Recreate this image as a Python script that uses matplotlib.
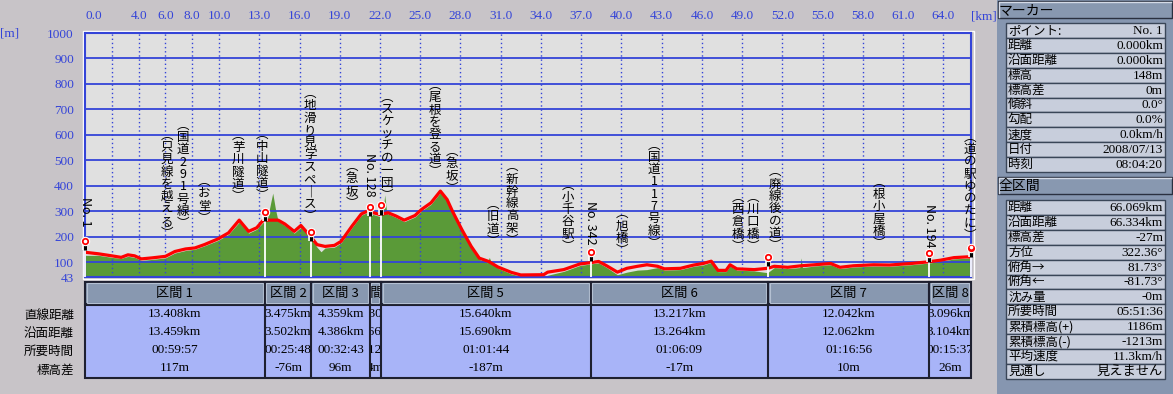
import numpy as np
import matplotlib.pyplot as plt
from matplotlib.patches import Rectangle
from matplotlib.transforms import Bbox, TransformedBbox

plt.rcParams['font.family'] = ['Noto Sans CJK JP', 'DejaVu Sans']
SERIF = ['Liberation Serif', 'Noto Sans CJK JP', 'DejaVu Sans']

# ---------------- data ----------------
# GPS track elevation (red line), km / m
track_km = [0, 1.0, 2.0, 2.7, 3.2, 3.7, 4.2, 5.0, 6.0, 6.7,
            7.5, 8.2, 8.9, 9.9, 10.7, 11.5, 12.2, 12.8, 13.3, 14.4,
            14.9, 15.6, 16.1, 16.8, 17.3, 17.9, 18.6, 19.1, 19.9, 20.6,
            21.2, 21.5, 22.0, 22.6, 23.2, 23.8, 24.6, 25.1, 25.8, 26.5,
            27.0, 27.4, 28.1, 28.8, 29.4, 30.1, 30.8, 31.8, 32.5, 34.2,
            34.5, 35.7, 36.9, 37.8, 38.3, 38.9, 39.7, 40.4, 41.2, 41.9,
            42.7, 43.2, 44.4, 45.4, 46.1, 46.7, 47.2, 47.8, 48.1, 48.6,
            49.9, 50.9, 51.4, 52.4, 53.4, 54.4, 55.6, 56.3, 57.3, 58.8,
            60.0, 61.6, 62.8, 63.8, 64.8, 65.8, 66.07]
track_m = [140, 134, 126, 120, 130, 126, 114, 118, 124, 143,
           153, 157, 170, 192, 216, 266, 222, 236, 266, 266,
           251, 222, 245, 203, 170, 163, 167, 183, 242, 290,
           305, 295, 288, 295, 282, 266, 284, 308, 334, 380,
           347, 301, 229, 163, 117, 104, 82, 61, 51, 52,
           62, 72, 94, 100, 104, 87, 62, 77, 85, 91,
           85, 75, 77, 90, 96, 105, 69, 69, 91, 75,
           72, 77, 85, 81, 87, 91, 96, 81, 87, 91,
           90, 96, 102, 109, 119, 122, 121]

# terrain profile (green fill)
ground_km = [0, 1.0, 2.0, 2.7, 3.2, 3.7, 4.2, 5.0, 6.0, 6.7,
             7.5, 8.2, 8.9, 9.9, 10.7, 11.5, 12.2, 12.8, 13.3, 13.6,
             13.85, 14.0, 14.2, 14.4, 14.9, 15.6, 16.1, 16.8, 17.3, 17.6,
             17.9, 18.6, 19.1, 19.9, 20.6, 21.2, 21.5, 22.0, 22.2, 22.35,
             22.5, 22.6, 23.2, 23.8, 24.6, 25.1, 25.8, 26.5, 27.0, 27.4,
             28.1, 28.8, 29.4, 30.0, 30.15, 30.3, 30.8, 31.8, 32.5, 34.2,
             34.5, 35.7, 36.9, 37.8, 38.3, 38.9, 39.7, 40.4, 41.2, 41.9,
             42.7, 43.2, 44.4, 45.4, 46.1, 46.7, 47.2, 47.8, 48.1, 48.6,
             49.9, 50.9, 51.4, 52.4, 53.3, 53.4, 53.5, 54.4, 55.6, 56.3,
             57.3, 58.8, 60.0, 61.6, 62.8, 63.8, 64.8, 65.8, 66.07]
ground_m = [128, 128, 120, 116, 124, 120, 108, 112, 118, 137,
            147, 152, 165, 186, 210, 258, 215, 230, 258, 270,
            335, 372, 310, 262, 245, 215, 238, 198, 160, 142,
            157, 160, 177, 236, 285, 300, 288, 280, 290, 365,
            295, 290, 276, 260, 278, 302, 328, 374, 340, 295,
            222, 157, 112, 99, 120, 99, 77, 55, 46, 44,
            50, 65, 88, 95, 98, 80, 52, 62, 70, 72,
            80, 70, 72, 85, 90, 100, 64, 64, 86, 70,
            67, 60, 80, 76, 80, 118, 80, 86, 91, 76,
            82, 86, 85, 91, 97, 104, 114, 117, 117]

# marker pins: elevation at the foot of each pin
pin_m = [148, 262, 183, 282, 288, 104, 85, 100, 122]

# vertical notes along the profile
note_text = ['No. 1', '(只見線を越える)', '(国道291号線)', '(お堂)', '(芋川隧道)',
             '(中山隧道)', '(地滑り見学スペース)', '(急坂)', 'No. 128', '(スケッチの一団)',
             '(尾根を登る道)', '(急坂)', '(旧道)', '(新幹線高架)', '(小千谷駅)',
             'No. 342', '(旭橋)', '(国道117号線)', '(西倉橋)', '(川口橋)',
             '(廃線後の道)', '(根小屋橋)', 'No. 194', '(道の駅ゆのたに)']
note_km = [0.0, 6.11, 7.31, 8.87, 11.41,
           13.20, 16.78, 19.91, 21.25, 22.52,
           26.10, 27.37, 30.43, 31.84, 36.02,
           37.73, 40.04, 42.43, 48.69, 49.81,
           51.45, 59.21, 62.94, 66.0]
note_m = [239, 188, 227, 247, 333,
          337, 255, 306, 357, 337,
          431, 365, 157, 161, 137,
          169, 121, 149, 137, 137,
          141, 149, 157, 180]

x_ticks = [0, 4, 6, 8, 10, 13, 16, 19, 22, 25, 28, 31, 34, 37, 40, 43, 46,
           49, 52, 55, 58, 61, 64]
x_grid = [2, 4, 6, 8, 10, 13, 16, 19, 22, 25, 28, 31, 34, 37, 40, 43, 46,
          49, 52, 55, 58, 61, 64]
y_ticks = [43, 100, 200, 300, 400, 500, 600, 700, 800, 900, 1000]
y_grid = [100, 200, 300, 400, 500, 600, 700, 800, 900]

# section table
sec_names = ['区間 1', '区間 2', '区間 3', '区間 4', '区間 5', '区間 6', '区間 7', '区間 8']
sec_direct = [13.408, 3.475, 4.359, 0.830, 15.640, 13.217, 12.042, 3.096]
sec_surface = [13.459, 3.502, 4.386, 0.866, 15.690, 13.264, 12.062, 3.104]
sec_time = ['00:59:57', '00:25:48', '00:32:43', '00:12:42', '01:01:44',
            '01:06:09', '01:16:56', '00:15:37']
sec_diff = [117, -76, 96, 4, -187, -17, 10, 26]
row_names = ['直線距離', '沿面距離', '所要時間', '標高差']

# right panel
marker_keys = ['ポイント:', '距離', '沿面距離', '標高', '標高差', '傾斜', '勾配',
               '速度', '日付', '時刻']
marker_vals = ['No. 1', '0.000km', '0.000km', '148m', '0m', '0.0°', '0.0%',
               '0.0km/h', '2008/07/13', '08:04:20']
total_keys = ['距離', '沿面距離', '標高差', '方位', '俯角→', '俯角←', '沈み量',
              '所要時間', '累積標高(+)', '累積標高(-)', '平均速度', '見通し']
total_vals = ['66.069km', '66.334km', '-27m', '322.36°', '81.73°', '-81.73°', '-0m',
              '05:51:36', '1186m', '-1213m', '11.3km/h', '見えません']

# ---------------- style ----------------
W, H = 1173, 394
BG = '#c8c4c8'
BLUE = '#3444d8'
PLOT_BG = '#e0e0e0'
GREEN = '#5a9a38'
HEAD = '#8898b0'
CELL = '#a8b4f8'
DARK = '#1e2030'
PANEL = '#8696b0'
ROW = '#c8cedc'


def box(l, t, r, b):
    return [l / W, 1 - b / H, (r - l) / W, (b - t) / H]


total_km = sum(sec_direct)
pin_km = np.concatenate([[0], np.cumsum(sec_direct)])

fig = plt.figure(figsize=(W / 100, H / 100), dpi=100, facecolor=BG)

# overlay in pixel units (frame, panel, units)
ov = fig.add_axes([0, 0, 1, 1])
ov.set_xlim(0, W)
ov.set_ylim(H, 0)
ov.axis('off')
ov.set_zorder(-1)

# ---- profile ----
ax = fig.add_axes(box(85, 33, 971, 277), facecolor=PLOT_BG)
ax.set_xlim(0, total_km)
ax.set_ylim(43, 1000)
ax.fill_between(ground_km, 43, ground_m, color=GREEN, lw=0, zorder=1)
ax.hlines(y_grid, 0, total_km, colors=BLUE, lw=1.3, zorder=2)
ax.vlines(x_grid, 43, 1000, colors=BLUE, lw=1, linestyles=(0, (1, 2)), zorder=2)
ax.plot(track_km, track_m, color='red', lw=2.3, zorder=3)

pin_top = np.add(pin_m, 28)
ax.vlines(pin_km, 43, pin_m, colors='white', lw=1.3, zorder=4, clip_on=False)
ax.vlines(pin_km, pin_m, pin_top, colors='white', lw=4.0, zorder=5, clip_on=False)
ax.vlines(pin_km, pin_m, pin_top, colors='black', lw=2.3, zorder=5, clip_on=False)
ax.plot(pin_km, np.add(pin_m, 36), 'o', ms=6, mfc='red', mec='white', mew=0.8,
        zorder=6, clip_on=False)
ax.plot(pin_km, np.add(pin_m, 37), 'o', ms=1.6, color='white', zorder=7, clip_on=False)

for txt, km, m in zip(note_text, note_km, note_m):
    if txt.startswith('No.'):
        ax.text(km, m, txt, rotation=-90, ha='center', va='bottom', fontsize=9,
                zorder=8, clip_on=False)
    else:
        vert = txt.replace('(', '︵').replace(')', '︶').replace('ー', '｜')
        ax.text(km, m, '\n'.join(vert), ha='center', va='bottom', fontsize=9,
                linespacing=0.93, zorder=8, clip_on=False)

ax.xaxis.tick_top()
ax.set_xticks(x_ticks, [f'{v:.1f}' for v in x_ticks])
ax.set_yticks(y_ticks, [str(v) for v in y_ticks])
ax.tick_params(length=0, labelcolor=BLUE, labelsize=9.5, pad=8)
for lab in ax.get_xticklabels() + ax.get_yticklabels():
    lab.set_family(SERIF)
ax.get_xticklabels()[0].set_ha('left')
for s in ax.spines.values():
    s.set_color(BLUE)
    s.set_linewidth(1.5)

ov.add_patch(Rectangle((82.5, 30.5), 891, 248.5, fill=False, ec='white', lw=1))
ov.text(10, 33, '[m]', color=BLUE, fontsize=9.5, family=SERIF, ha='center', va='center')
ov.text(984, 16, '[km]', color=BLUE, fontsize=9.5, family=SERIF, ha='center', va='center')

# ---- section table ----
tax = fig.add_axes(box(85, 281, 971, 378))
tax.set_xlim(0, total_km)
tax.set_ylim(97, 0)
tax.patch.set_visible(False)
for s in tax.spines.values():
    s.set_visible(False)
tax.set_xticks([])

head_h, row_h = 23, 18.25
body_top = head_h + 0.5
tax.add_patch(Rectangle((0, body_top), total_km, 4 * row_h, fc=CELL, ec=DARK, lw=1.5,
                        clip_on=False))
tax.vlines(pin_km[1:-1], body_top, body_top + 4 * row_h, colors=DARK, lw=1.5)


def clip_to(t, x0, y0, x1, y1):
    t.set_clip_box(TransformedBbox(Bbox([[x0, y0], [x1, y1]]), tax.transData))
    t.set_clip_on(True)


rows_txt = [[f'{v:.3f}km' for v in sec_direct],
            [f'{v:.3f}km' for v in sec_surface],
            sec_time,
            [f'{v}m' for v in sec_diff]]
for i in range(len(sec_names)):
    e0, e1 = pin_km[i], pin_km[i + 1]
    tax.add_patch(Rectangle((e0, 0.5), e1 - e0, head_h - 0.5, fc=HEAD, ec=DARK, lw=1.5,
                            clip_on=False))
    tax.add_patch(Rectangle((e0 + 0.12, 2), e1 - e0 - 0.24, head_h - 3.5, fill=False,
                            ec='#b4c0d2', lw=0.8))
    t = tax.text((e0 + e1) / 2, head_h / 2 + 0.5, sec_names[i], ha='center', va='center',
                 fontsize=9.5)
    clip_to(t, e0 + 0.08, 0, e1 - 0.08, head_h)
    for r, vals in enumerate(rows_txt):
        yc = body_top + (r + 0.5) * row_h
        t = tax.text((e0 + e1) / 2, yc, vals[i], ha='center', va='center',
                     fontsize=9.5, family=SERIF)
        clip_to(t, e0 + 0.06, body_top, e1 - 0.06, body_top + 4 * row_h)

tax.set_yticks([body_top + (r + 0.5) * row_h for r in range(4)], row_names)
tax.tick_params(axis='y', length=0, pad=8, labelsize=9)

# ---- right panel ----
ov.add_patch(Rectangle((997, 0), 176, H, fc=PANEL, ec='none'))


def panel_header(y0, y1, title):
    ov.add_patch(Rectangle((997.5, y0), 174.5, y1 - y0, fc=HEAD, ec='#2a3040', lw=1))
    ov.plot([998.5, 998.5, 1171], [y1 - 1, y0 + 1, y0 + 1], color='#d4dae6', lw=1)
    ov.text(999, (y0 + y1) / 2 + 0.5, title, ha='left', va='center', fontsize=10)


def panel_rows(y0, keys, vals, h):
    for i, (k, v) in enumerate(zip(keys, vals)):
        y = y0 + i * h
        ov.add_patch(Rectangle((1006, y), 159, h, fc=ROW, ec='#3a4658', lw=1))
        ov.text(1008, y + h / 2, k, ha='left', va='center', fontsize=9)
        ov.text(1163, y + h / 2 + 0.5, v, ha='right', va='center', fontsize=9.5,
                family=SERIF)


panel_header(1, 18, 'マーカー')
panel_rows(23.3, marker_keys, marker_vals, 14.85)
panel_header(177, 194, '全区間')
panel_rows(200, total_keys, total_vals, 14.9)

fig.savefig('out.png', dpi=100, facecolor=fig.get_facecolor())
